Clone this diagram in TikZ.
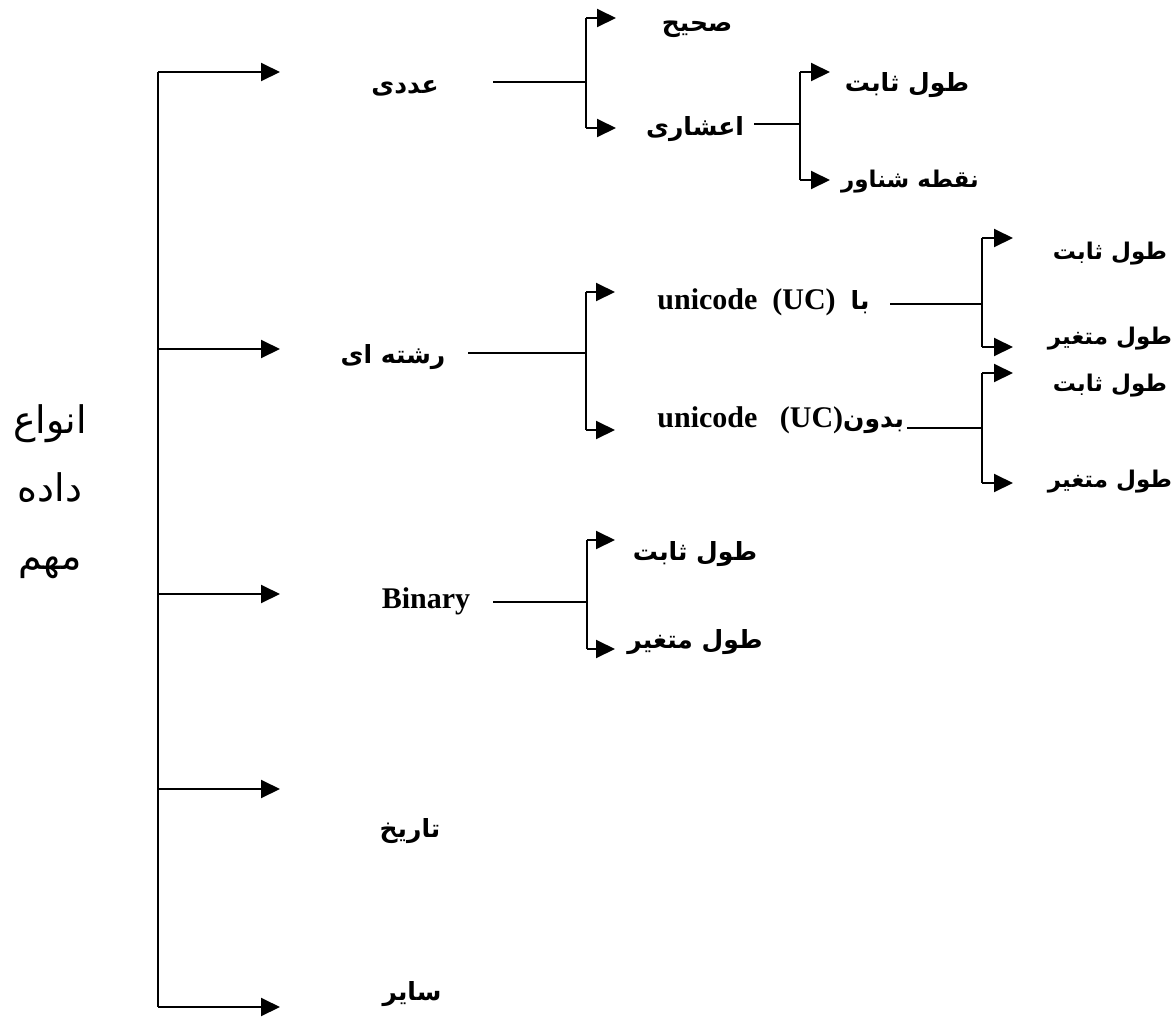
\documentclass[tikz,border=0pt]{standalone}
\usepackage{fontspec}
\usetikzlibrary{arrows.meta}
\TeXXeTstate=1
\newfontfamily\fa[Script=Arabic]{DejaVu Sans}
\newfontfamily\lat{Liberation Serif}
\tikzset{
  conn/.style={line width=1pt, black},
  arr/.style={conn, -{Triangle[length=9.5pt,width=9pt]}},
  fatxt/.style={inner sep=0pt, font=\fa\bfseries\fontsize{12.5}{14}\selectfont},
  fasmall/.style={inner sep=0pt, font=\fa\bfseries\fontsize{11.5}{14}\selectfont},
  latxt/.style={inner sep=0pt, font=\lat\bfseries\fontsize{15}{18}\selectfont},
  ttl/.style={inner sep=0pt, align=center, font=\fa\fontsize{19}{34}\selectfont}
}
\begin{document}
\begin{tikzpicture}[x=0.5pt, y=-0.5pt]
\useasboundingbox (0,0) rectangle (1175,1018);

% title
\node[ttl] (title) at (50,492) {\beginR انواع\endR\\\beginR داده\endR\\\beginR مهم\endR};

% trunk
\coordinate (c1) at (158,72);   \coordinate (a1) at (280,72);
\coordinate (c2) at (158,349);  \coordinate (a2) at (280,349);
\coordinate (c3) at (158,594);  \coordinate (a3) at (280,594);
\coordinate (c4) at (158,789);  \coordinate (a4) at (280,789);
\coordinate (c5) at (158,1007); \coordinate (a5) at (280,1007);
\draw[conn] (c1) -- (c5);
\foreach \i in {1,...,5} \draw[arr] (c\i) -- (a\i);

% first level
\node[fatxt] (n1) at (405,88) {\beginR عددی\endR};
\node[fatxt] (n2) at (393,357) {\beginR رشته ای\endR};
\node[latxt] (n3) at (426,601) {Binary};
\node[fatxt] (n4) at (410,831) {\beginR تاریخ\endR};
\node[fatxt] (n5) at (412,994) {\beginR سایر\endR};

% numeric
\coordinate (n1o) at (493,82); \coordinate (j1) at (586,82);
\coordinate (j1t) at (586,18); \coordinate (j1b) at (586,128);
\coordinate (e11) at (616,18); \coordinate (e12) at (616,128);
\draw[conn] (n1o) -- (j1);
\draw[conn] (j1t) -- (j1b);
\draw[arr] (j1t) -- (e11);
\draw[arr] (j1b) -- (e12);
\node[fatxt] (n11) at (697,29) {\beginR صحیح\endR};
\node[fatxt] (n12) at (695,129) {\beginR اعشاری\endR};

\coordinate (n12o) at (754,124); \coordinate (j12) at (800,124);
\coordinate (j12t) at (800,72); \coordinate (j12b) at (800,180);
\coordinate (e121) at (830,72); \coordinate (e122) at (830,180);
\draw[conn] (n12o) -- (j12);
\draw[conn] (j12t) -- (j12b);
\draw[arr] (j12t) -- (e121);
\draw[arr] (j12b) -- (e122);
\node[fatxt] (n121) at (907,85) {\beginR طول ثابت\endR};
\node[fasmall] (n122) at (910,182) {\beginR نقطه شناور\endR};

% string
\coordinate (n2o) at (468,353); \coordinate (j2) at (586,353);
\coordinate (j2t) at (586,292); \coordinate (j2b) at (586,430);
\coordinate (e21) at (615,292); \coordinate (e22) at (615,430);
\draw[conn] (n2o) -- (j2);
\draw[conn] (j2t) -- (j2b);
\draw[arr] (j2t) -- (e21);
\draw[arr] (j2b) -- (e22);
\node[latxt, anchor=west] (n21) at (657,302) {unicode\ \ (UC)\ \ {\fa\fontsize{12.5}{14}\selectfont\beginR با\endR}};
\node[latxt, anchor=west] (n22) at (657,420) {unicode\ \ \ (UC){\fa\fontsize{12.5}{14}\selectfont\beginR بدون\endR}};

\coordinate (n21o) at (890,304); \coordinate (j21) at (982,304);
\coordinate (j21t) at (982,238); \coordinate (j21b) at (982,347);
\coordinate (e211) at (1013,238); \coordinate (e212) at (1013,347);
\draw[conn] (n21o) -- (j21);
\draw[conn] (j21t) -- (j21b);
\draw[arr] (j21t) -- (e211);
\draw[arr] (j21b) -- (e212);
\node[fasmall] (n211) at (1110,254) {\beginR طول ثابت\endR};
\node[fasmall] (n212) at (1110,339) {\beginR طول متغیر\endR};

\coordinate (n22o) at (907,428); \coordinate (j22) at (982,428);
\coordinate (j22t) at (982,373); \coordinate (j22b) at (982,483);
\coordinate (e221) at (1013,373); \coordinate (e222) at (1013,483);
\draw[conn] (n22o) -- (j22);
\draw[conn] (j22t) -- (j22b);
\draw[arr] (j22t) -- (e221);
\draw[arr] (j22b) -- (e222);
\node[fasmall] (n221) at (1110,386) {\beginR طول ثابت\endR};
\node[fasmall] (n222) at (1110,482) {\beginR طول متغیر\endR};

% binary
\coordinate (n3o) at (493,602); \coordinate (j3) at (587,602);
\coordinate (j3t) at (587,540); \coordinate (j3b) at (587,649);
\coordinate (e31) at (615,540); \coordinate (e32) at (615,649);
\draw[conn] (n3o) -- (j3);
\draw[conn] (j3t) -- (j3b);
\draw[arr] (j3t) -- (e31);
\draw[arr] (j3b) -- (e32);
\node[fatxt] (n31) at (695,554) {\beginR طول ثابت\endR};
\node[fatxt] (n32) at (695,642) {\beginR طول متغیر\endR};
\end{tikzpicture}
\end{document}
